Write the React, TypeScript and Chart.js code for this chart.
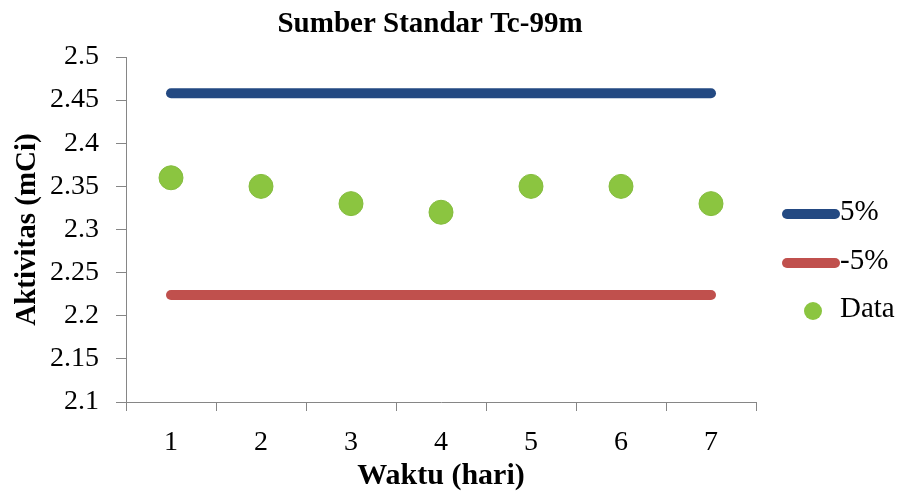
import React, { useEffect, useRef } from "react";
import { Chart, registerables } from "chart.js";

Chart.register(...registerables);

const days = ["1", "2", "3", "4", "5", "6", "7"];
const upperLimit = [2.458, 2.458, 2.458, 2.458, 2.458, 2.458, 2.458];
const lowerLimit = [2.224, 2.224, 2.224, 2.224, 2.224, 2.224, 2.224];
const measured = [2.36, 2.35, 2.33, 2.32, 2.35, 2.35, 2.33];
const seriesLabels = ["5%", "-5%", "Data"];
const yMin = 2.1;
const yMax = 2.5;
const yStep = 0.05;
const chartTitle = "Sumber Standar Tc-99m";
const xTitle = "Waktu (hari)";
const yTitle = "Aktivitas (mCi)";

const SERIF = '"Liberation Serif", "Times New Roman", serif';
const AXIS_GRAY = "#868686";

const titlePlugin = {
  id: "topTitle",
  afterDraw(chart: any) {
    const ctx = chart.ctx;
    ctx.save();
    ctx.font = `bold 29px ${SERIF}`;
    ctx.fillStyle = "#000";
    ctx.textAlign = "center";
    ctx.textBaseline = "middle";
    ctx.fillText(chartTitle, 430, 25);
    ctx.restore();
  },
};

const legendPlugin = {
  id: "sideLegend",
  afterDraw(chart: any) {
    const ctx = chart.ctx;
    const rows = [214, 263, 311];
    ctx.save();
    chart.data.datasets.forEach((d: any, i: number) => {
      const y = rows[i];
      if (d.showLine === false) {
        ctx.beginPath();
        ctx.arc(813, y, 9, 0, Math.PI * 2);
        ctx.fillStyle = d.backgroundColor;
        ctx.fill();
      } else {
        ctx.beginPath();
        ctx.moveTo(787, y);
        ctx.lineTo(835, y);
        ctx.lineWidth = 10;
        ctx.lineCap = "round";
        ctx.strokeStyle = d.borderColor;
        ctx.stroke();
      }
      ctx.font = `29px ${SERIF}`;
      ctx.fillStyle = "#000";
      ctx.textAlign = "left";
      ctx.textBaseline = "middle";
      ctx.fillText(d.label, 840, y - 2);
    });
    ctx.restore();
  },
};

export default function App() {
  const ref = useRef<HTMLCanvasElement>(null);

  useEffect(() => {
    if (!ref.current) return;
    const chart = new Chart(ref.current, {
      type: "line",
      data: {
        labels: days,
        datasets: [
          {
            label: seriesLabels[0],
            data: upperLimit,
            borderColor: "#234982",
            backgroundColor: "#234982",
            borderWidth: 10,
            borderCapStyle: "round",
            pointRadius: 0,
            fill: false,
          },
          {
            label: seriesLabels[1],
            data: lowerLimit,
            borderColor: "#C0504D",
            backgroundColor: "#C0504D",
            borderWidth: 10,
            borderCapStyle: "round",
            pointRadius: 0,
            fill: false,
          },
          {
            label: seriesLabels[2],
            data: measured,
            showLine: false,
            pointRadius: 12,
            pointBorderWidth: 1,
            pointBackgroundColor: "#8BC540",
            pointBorderColor: "#84BC3E",
            backgroundColor: "#8BC540",
            borderColor: "#84BC3E",
          },
        ],
      } as any,
      options: {
        animation: false,
        responsive: false,
        devicePixelRatio: 1,
        layout: { padding: { top: 57, right: 142, left: 0, bottom: 0 } },
        plugins: {
          legend: { display: false },
          title: { display: false },
          tooltip: { enabled: false },
        },
        scales: {
          x: {
            type: "category",
            offset: true,
            grid: {
              offset: true,
              drawOnChartArea: false,
              drawTicks: true,
              tickLength: 9,
              color: AXIS_GRAY,
            },
            border: { display: true, color: AXIS_GRAY, width: 1 },
            ticks: {
              font: { family: SERIF, size: 28 },
              color: "#000",
              padding: 15,
              maxRotation: 0,
            },
            title: {
              display: true,
              text: xTitle,
              font: { family: SERIF, size: 30, weight: "bold", lineHeight: 1.1 },
              color: "#000",
              padding: 0,
            },
            afterFit: (s: any) => {
              s.height = 91;
            },
          },
          y: {
            min: yMin,
            max: yMax,
            ticks: {
              stepSize: yStep,
              font: { family: SERIF, size: 28 },
              color: "#000",
              padding: 17,
              callback: (v: any) => String(Number(Number(v).toFixed(2))),
            },
            grid: {
              drawOnChartArea: false,
              drawTicks: true,
              tickLength: 10,
              color: AXIS_GRAY,
            },
            border: { display: true, color: AXIS_GRAY, width: 1 },
            title: {
              display: true,
              text: yTitle,
              font: { family: SERIF, size: 29, weight: "bold" },
              color: "#000",
              padding: { top: 10, bottom: 0 },
            },
            afterFit: (s: any) => {
              s.width = 126;
            },
          },
        },
      } as any,
      plugins: [titlePlugin, legendPlugin],
    });
    return () => chart.destroy();
  }, []);

  return (
    <div style={{ position: "absolute", left: 0, top: 0, width: 898, height: 493, background: "#fff" }}>
      <canvas ref={ref} width={898} height={493} style={{ width: 898, height: 493 }} />
    </div>
  );
}
